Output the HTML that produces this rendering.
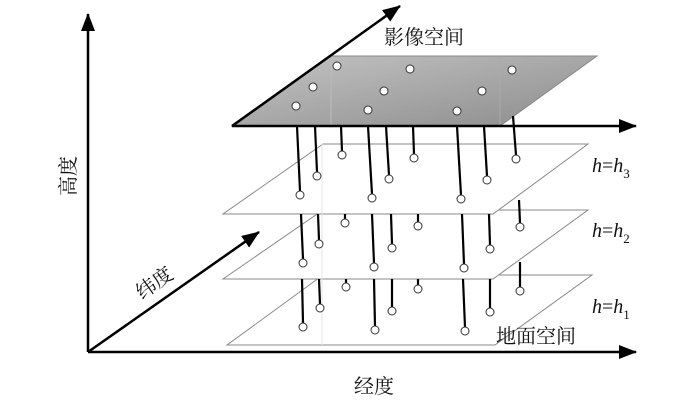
<!DOCTYPE html>
<html><head><meta charset="utf-8"><style>
html,body{margin:0;padding:0;background:#fff;}
svg{display:block;}
text{font-family:"Liberation Serif","Noto Serif CJK SC","Noto Sans CJK SC",serif;fill:#111;}
</style></head><body>
<svg width="700" height="417" viewBox="0 0 700 417" xmlns="http://www.w3.org/2000/svg">
<defs>
<marker id="ah" markerWidth="10" markerHeight="10" refX="9" refY="5" orient="auto" markerUnits="userSpaceOnUse" viewBox="0 0 10 10">
<path d="M0,0 L10,5 L0,10 z" fill="#000"/></marker>
<marker id="ah2" markerWidth="18" markerHeight="14" refX="17" refY="7" orient="auto" markerUnits="userSpaceOnUse" viewBox="0 0 18 14">
<path d="M0,0 L18,7 L0,14 z" fill="#000"/></marker>
<linearGradient id="g" x1="0" y1="0" x2="1" y2="1">
<stop offset="0" stop-color="#c4c4c4"/><stop offset="1" stop-color="#8c8c8c"/></linearGradient>
</defs>

<!-- axes -->
<line x1="88" y1="352" x2="88" y2="14" stroke="#000" stroke-width="2.5" marker-end="url(#ah2)"/>
<line x1="88" y1="352" x2="636" y2="352" stroke="#000" stroke-width="2.5" marker-end="url(#ah2)"/>
<line x1="88" y1="352" x2="259" y2="232" stroke="#000" stroke-width="2.5" marker-end="url(#ah2)"/>

<!-- planes -->
<polygon points="227,345 495,345 592,275 323,275" fill="#fff" stroke="#888" stroke-width="1"/>
<polygon points="223,279 493,279 588,210 323,210" fill="#fff" stroke="#888" stroke-width="1"/>
<polygon points="223,214 493,214 588,144 323,144" fill="#fff" stroke="#888" stroke-width="1"/>
<line x1="322" y1="144" x2="322" y2="345" stroke="#e6e6e6" stroke-width="1"/>

<!-- top plane -->
<polygon points="232,126 500,126 597,56 330,56" fill="url(#g)" stroke="#888" stroke-width="1"/>
<line x1="331" y1="57" x2="331" y2="125" stroke="#bbb" stroke-width="1"/>
<line x1="500" y1="57" x2="500" y2="125" stroke="#aaa" stroke-width="1"/>
<line x1="232" y1="126" x2="636" y2="126" stroke="#000" stroke-width="2.5" marker-end="url(#ah2)"/>
<line x1="232" y1="126" x2="400" y2="6" stroke="#000" stroke-width="2.5" marker-end="url(#ah2)"/>

<g fill="#fff" stroke="#333" stroke-width="1">
<circle cx="337" cy="66" r="4"/><circle cx="410" cy="69" r="4"/><circle cx="512" cy="70" r="4"/>
<circle cx="313" cy="87" r="4"/><circle cx="384" cy="91" r="4"/><circle cx="482" cy="91" r="4"/>
<circle cx="296" cy="106" r="4"/><circle cx="368" cy="110" r="4"/><circle cx="457" cy="111" r="4"/>
</g>

<!-- pins -->
<g stroke="#000" stroke-width="2.2">
<!-- h3 -->
<line x1="297" y1="126" x2="300" y2="191"/><line x1="315" y1="126" x2="317" y2="172"/>
<line x1="341" y1="126" x2="342" y2="151"/><line x1="368" y1="126" x2="372" y2="194"/>
<line x1="386" y1="126" x2="389" y2="175"/><line x1="413" y1="126" x2="414" y2="154"/>
<line x1="457" y1="126" x2="461" y2="195"/><line x1="484" y1="126" x2="487" y2="176"/>
<line x1="513" y1="116" x2="516" y2="155"/>
<!-- h2 -->
<line x1="301" y1="214" x2="303" y2="259"/><line x1="318" y1="214" x2="319" y2="240"/>
<line x1="345" y1="214" x2="345" y2="219"/><line x1="372" y1="214" x2="374" y2="263"/>
<line x1="391" y1="214" x2="392" y2="244"/><line x1="418" y1="214" x2="418" y2="222"/>
<line x1="462" y1="214" x2="464" y2="264"/><line x1="489" y1="214" x2="490" y2="245"/>
<line x1="519" y1="200" x2="520" y2="223"/>
<!-- h1 -->
<line x1="302" y1="279" x2="303" y2="323"/><line x1="319" y1="279" x2="320" y2="304"/>
<line x1="346" y1="279" x2="346" y2="283"/><line x1="374" y1="279" x2="375" y2="326"/>
<line x1="392" y1="279" x2="392" y2="307"/><line x1="418" y1="279" x2="418" y2="285"/>
<line x1="463" y1="279" x2="465" y2="327"/><line x1="490" y1="279" x2="490" y2="308"/>
<line x1="520" y1="262" x2="520" y2="287"/>
</g>
<g fill="#fff" stroke="#333" stroke-width="1">
<circle cx="300" cy="195" r="4"/><circle cx="317" cy="176" r="4"/><circle cx="342" cy="155" r="4"/>
<circle cx="372" cy="198" r="4"/><circle cx="389" cy="179" r="4"/><circle cx="414" cy="158" r="4"/>
<circle cx="461" cy="199" r="4"/><circle cx="487" cy="180" r="4"/><circle cx="516" cy="159" r="4"/>

<circle cx="303" cy="263" r="4"/><circle cx="319" cy="244" r="4"/><circle cx="345" cy="223" r="4"/>
<circle cx="374" cy="267" r="4"/><circle cx="392" cy="248" r="4"/><circle cx="418" cy="226" r="4"/>
<circle cx="464" cy="268" r="4"/><circle cx="490" cy="249" r="4"/><circle cx="520" cy="227" r="4"/>

<circle cx="303" cy="327" r="4"/><circle cx="320" cy="308" r="4"/><circle cx="346" cy="287" r="4"/>
<circle cx="375" cy="330" r="4"/><circle cx="392" cy="311" r="4"/><circle cx="418" cy="289" r="4"/>
<circle cx="465" cy="331" r="4"/><circle cx="490" cy="312" r="4"/><circle cx="520" cy="291" r="4"/>
</g>

<!-- labels -->
<text x="384" y="44" font-size="20">影像空间</text>
<text x="496" y="343" font-size="20">地面空间</text>
<text x="354" y="393" font-size="20">经度</text>
<text transform="translate(75,196) rotate(-90)" font-size="20">高度</text>
<text transform="translate(142,300) rotate(-35)" font-size="20">纬度</text>
<text x="592" y="172" font-size="20" font-style="italic">h<tspan font-style="normal">=</tspan>h<tspan font-size="13" font-style="normal" dy="6">3</tspan></text>
<text x="592" y="237" font-size="20" font-style="italic">h<tspan font-style="normal">=</tspan>h<tspan font-size="13" font-style="normal" dy="6">2</tspan></text>
<text x="592" y="313" font-size="20" font-style="italic">h<tspan font-style="normal">=</tspan>h<tspan font-size="13" font-style="normal" dy="6">1</tspan></text>
</svg>
</body></html>
